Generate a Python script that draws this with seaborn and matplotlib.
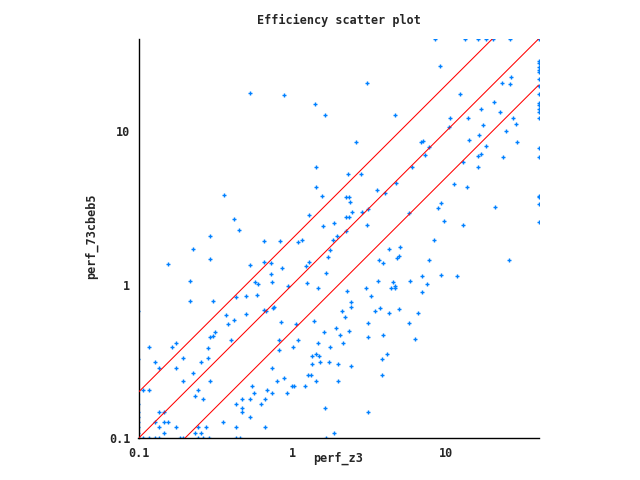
import numpy as np
import pandas as pd
import seaborn as sns
import matplotlib
matplotlib.use("Agg")
import matplotlib.pyplot as plt
from matplotlib.ticker import LogLocator, FixedFormatter, FixedLocator

# run times (seconds), timeouts pinned at 40
perf_z3 = [
    0.53, 0.88, 1.40, 1.63, 1.42, 1.42, 1.56, 0.36, 1.28, 0.42, 0.45, 1.58, 1.86, 0.29, 1.95,
    8.47, 13.3, 16.1, 18.2, 20.2, 26.0, 40,
    9.13, 3.06,
    40, 40, 40, 40, 40, 40, 40, 40, 40, 40, 40, 40, 40, 40, 40, 40, 40, 40, 40,
    26.4, 23.1, 26.0, 12.3, 20.5, 16.9, 22.4, 4.65, 10.6, 13.9, 27.2, 17.4, 28.5, 10.4, 24.5,
    16.4, 2.59, 6.86, 7.07, 14.1, 28.9, 18.2, 7.74, 7.29, 16.9, 16.1, 23.5, 12.9, 6.00, 16.1,
    2.30, 2.79, 11.3, 4.72, 13.7, 3.55, 4.00, 2.23, 2.33, 2.37, 9.26, 8.86, 20.8, 2.44, 2.84,
    3.10, 5.74, 2.23, 2.33, 9.69, 3.06, 12.9, 2.23, 8.34,
    0.654, 0.831, 1.09, 1.15, 1.84, 0.226, 1.76, 1.70, 0.29, 0.654, 0.726, 1.28, 0.155, 0.53,
    1.23, 0.856, 1.65, 0.726, 0.216, 0.571, 0.737, 0.597, 1.24, 0.936, 1.47, 0.43, 0.499,
    0.589, 0.216, 0.304, 0.759, 0.748, 0.654, 0.673, 0.1, 0.37, 0.497, 0.843, 0.381, 0.417,
    1.06, 1.38, 1.92, 0.314, 1.61, 0.29, 0.304, 2.04, 0.399, 0.818, 1.09, 0.117, 0.165, 0.175,
    0.282, 1.01, 1.47, 1.76, 0.818, 0.194, 0.282, 1.34, 1.42, 1.49, 0.1, 0.128, 0.254, 1.34,
    1.51, 1.73, 1.98, 0.136, 0.175, 0.737, 0.226, 1.26, 1.32, 0.194, 0.29, 0.88, 0.794, 1.42,
    1.98, 0.546, 0.994, 1.02, 1.21, 0.107, 0.117, 0.243, 0.683, 0.232, 0.563, 0.737, 0.922,
    0.262, 0.470, 0.53, 0.663, 0.43, 0.625, 0.47, 0.47, 0.136, 0.146, 1.63, 0.53, 0.128, 0.146,
    0.155, 0.354, 0.136, 0.175, 0.243, 0.274, 0.43, 0.663, 0.146, 0.232, 0.254, 1.86,
    0.107, 0.117, 0.128, 0.136, 0.186, 0.194, 0.243, 0.262, 0.287, 0.43, 0.456, 1.65,
    0.1, 0.1, 0.1, 0.1, 0.1, 0.1, 0.1,
    4.25, 5.01, 3.66, 3.89, 4.79, 4.94, 7.74, 25.7, 3.61, 4.51, 5.82, 6.97, 9.26, 11.8, 7.51,
    3.01, 4.38, 4.65, 4.65, 6.97, 2.27, 3.25, 2.41, 2.41, 2.10, 2.20, 3.45, 3.72, 4.94, 4.25,
    6.56, 3.10, 5.74, 2.33, 3.10, 3.89, 6.25, 2.13, 4.13, 3.83, 2.41, 3.83, 3.10,
]
perf_73cbeb5 = [
    17.7, 17.2, 15.1, 12.8, 5.86, 4.34, 3.79, 3.85, 2.85, 2.69, 2.28, 2.42, 2.53, 2.08, 2.08,
    40, 40, 40, 40, 40, 40, 40,
    26.6, 20.6,
    28.8, 27.8, 26.3, 25.2, 24.3, 21.9, 19.7, 17.5, 15.4, 14.8, 13.9, 13.4, 12.2, 7.79, 6.80,
    3.79, 3.74, 3.36, 2.57,
    22.6, 20.6, 20.3, 17.5, 15.5, 14.0, 13.4, 12.8, 12.2, 12.2, 12.2, 11.0, 11.2, 10.7, 10.0,
    9.46, 8.52, 8.52, 8.72, 8.78, 8.52, 8.02, 7.90, 7.01, 7.12, 6.91, 6.80, 6.31, 5.86, 5.86,
    5.27, 5.27, 4.54, 4.61, 4.34, 4.15, 3.97, 3.74, 3.74, 3.47, 3.42, 3.17, 3.22, 2.98, 2.98,
    3.12, 2.94, 2.77, 2.77, 2.61, 2.46, 2.46, 2.25, 1.97,
    1.93, 1.93, 1.90, 1.96, 1.96, 1.71, 1.69, 1.52, 1.48, 1.41, 1.39, 1.41, 1.37, 1.35,
    1.33, 1.29, 1.20, 1.18, 1.06, 1.05, 1.05, 1.01, 1.03, 0.985, 0.956, 0.836, 0.848,
    0.861, 0.787, 0.787, 0.719, 0.709, 0.688, 0.677, 0.68, 0.638, 0.648, 0.574, 0.557, 0.592,
    0.557, 0.583, 0.525, 0.495, 0.495, 0.459, 0.466, 0.473, 0.439, 0.439, 0.439, 0.395, 0.395, 0.419,
    0.389, 0.395, 0.419, 0.395, 0.378, 0.335, 0.335, 0.345, 0.356, 0.345, 0.33, 0.316, 0.316, 0.306,
    0.316, 0.316, 0.306, 0.288, 0.288, 0.288, 0.268, 0.260, 0.260, 0.237, 0.237, 0.248, 0.237, 0.237,
    0.237, 0.220, 0.220, 0.220, 0.220, 0.207, 0.207, 0.207, 0.207, 0.190, 0.198, 0.198, 0.198,
    0.179, 0.179, 0.179, 0.179, 0.168, 0.168, 0.158, 0.149, 0.149, 0.149, 0.158, 0.138, 0.128, 0.128,
    0.128, 0.128, 0.119, 0.119, 0.119, 0.119, 0.119, 0.119, 0.109, 0.109, 0.109, 0.109,
    0.1, 0.1, 0.1, 0.1, 0.1, 0.1, 0.1, 0.1, 0.1, 0.1, 0.1, 0.1,
    0.168, 0.148, 0.138, 0.128, 0.118, 0.109, 0.1,
    1.71, 1.77, 1.45, 1.39, 1.50, 1.54, 1.45, 1.45, 1.06, 1.05, 1.06, 1.14, 1.16, 1.14, 1.01,
    0.956, 0.956, 0.985, 0.956, 0.90, 0.914, 0.848, 0.775, 0.719, 0.677, 0.619, 0.677, 0.709, 0.698, 0.657,
    0.657, 0.566, 0.566, 0.502, 0.459, 0.473, 0.445, 0.419, 0.356, 0.33, 0.297, 0.26, 0.149,
]

# reference lines y = ratio * x
ratios = [0.5, 1, 2]
axis_range = [0.1, 40]
tick_values = [0.1, 1, 10]
tick_labels = ["0.1", "1", "10"]

sns.set_style("white")
plt.rcParams["font.family"] = ["DejaVu Sans Mono"]
plt.rcParams["font.weight"] = "bold"

df = pd.DataFrame({"perf_z3": perf_z3, "perf_73cbeb5": perf_73cbeb5})

fig = plt.figure(figsize=(6.4, 4.8), dpi=100)
ax = fig.add_axes([138.5 / 640, 1 - 438.3 / 480, 400 / 640, 399.3 / 480])

sns.scatterplot(data=df, x="perf_z3", y="perf_73cbeb5", marker="+", color="#0080ff",
                s=10, linewidth=1.0, ax=ax, legend=False, zorder=2)

line_x = np.array(axis_range, dtype=float)
for r in ratios:
    lines = pd.DataFrame({"x": line_x, "y": line_x * r})
    sns.lineplot(data=lines, x="x", y="y", color="red", linewidth=0.75, ax=ax, zorder=3)

ax.set_xscale("log")
ax.set_yscale("log")
ax.set_xlim(axis_range)
ax.set_ylim(axis_range)

for axis in (ax.xaxis, ax.yaxis):
    axis.set_major_locator(FixedLocator(tick_values))
    axis.set_major_formatter(FixedFormatter(tick_labels))
    axis.set_minor_locator(LogLocator(base=10, subs=np.arange(2, 10), numticks=20))

ax.tick_params(which="both", direction="in", top=False, right=False, width=1,
               color="black", labelsize=8.5, pad=6)
ax.tick_params(which="major", length=3.6)
ax.tick_params(which="minor", length=2.2)

for side in ("top", "right"):
    ax.spines[side].set_visible(False)
for side in ("left", "bottom"):
    ax.spines[side].set_linewidth(1)
    ax.spines[side].set_color("black")

ax.set_xlabel("perf_z3", fontsize=8.5, fontweight="bold")
ax.set_ylabel("perf_73cbeb5", fontsize=8.5, fontweight="bold")
ax.xaxis.label.set_va("center")
ax.yaxis.label.set_va("center")
ax.xaxis.set_label_coords(0.5, (438.3 - 458) / 399.3)
ax.yaxis.set_label_coords((91.7 - 138.5) / 400, 0.506)

ax.set_title("Efficiency scatter plot", fontsize=8.5, fontweight="bold",
             y=1 + (39 - 20.7) / 399.3, va="center", pad=0)

fig.savefig("out.png", dpi=100, facecolor="white")
